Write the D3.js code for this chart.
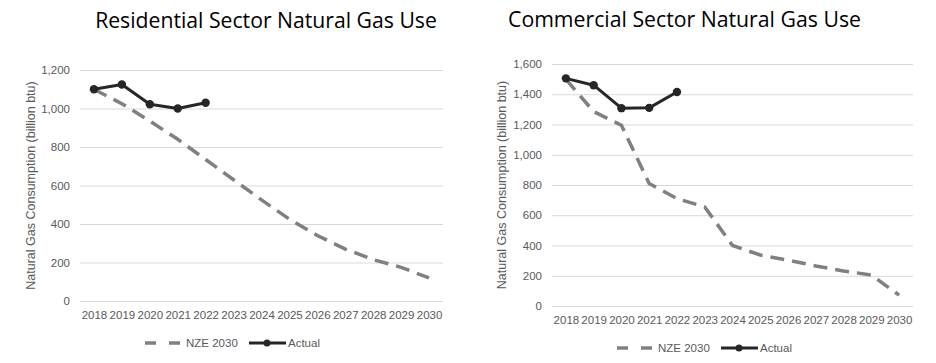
<!DOCTYPE html>
<html>
<head>
<meta charset="utf-8">
<script src="https://cdn.jsdelivr.net/npm/d3@7/dist/d3.min.js"></script>
<style>
  body { margin: 0; background: #fff; }
  svg { display: block; }
</style>
</head>
<body>
<svg id="chart" width="936" height="363"></svg>
<script>
const years = ["2018", "2019", "2020", "2021", "2022", "2023", "2024", "2025", "2026", "2027", "2028", "2029", "2030"];

const resNze = [1100, 1025, 935, 840, 735, 630, 525, 425, 340, 270, 215, 175, 120];
const resActual = [1100, 1125, 1022, 1000, 1030];
const resTicks = [0, 200, 400, 600, 800, 1000, 1200];

const comNze = [1500, 1285, 1195, 810, 710, 655, 400, 337, 303, 265, 232, 205, 72];
const comActual = [1505, 1460, 1308, 1310, 1415];
const comTicks = [0, 200, 400, 600, 800, 1000, 1200, 1400, 1600];

const seriesNames = ["NZE 2030", "Actual"];

const svg = d3.select("#chart");
const fontFamily = "'Liberation Sans', Arial, sans-serif";

function drawPanel(opts) {
    const { title, nze, actual, ticks, box, titleBox, yTitleX, legend } = opts;

    const x = d3.scalePoint()
        .domain(years)
        .range([box.left, box.right])
        .padding(0.5);

    const y = d3.scaleLinear()
        .domain([0, d3.max(ticks)])
        .range([box.bottom, box.top]);

    const g = svg.append("g");

    // gridlines
    g.append("g")
        .attr("transform", `translate(${box.left},0)`)
        .call(d3.axisLeft(y).tickValues(ticks).tickSize(-(box.right - box.left)).tickFormat(""))
        .call(s => s.select(".domain").remove())
        .call(s => s.selectAll("line").attr("stroke", "#d9d9d9").attr("stroke-width", 1));

    // y labels
    g.append("g")
        .attr("transform", `translate(${box.left - 10},0)`)
        .call(d3.axisLeft(y).tickValues(ticks).tickSize(0).tickPadding(0).tickFormat(d3.format(",")))
        .call(s => s.select(".domain").remove())
        .call(s => s.selectAll("text")
            .attr("fill", "#595959")
            .style("font-size", "11.5px")
            .style("font-family", fontFamily));

    // x labels
    g.append("g")
        .attr("transform", `translate(0,${box.bottom + 8})`)
        .call(d3.axisBottom(x).tickSize(0).tickPadding(0))
        .call(s => s.select(".domain").remove())
        .call(s => s.selectAll("text")
            .attr("fill", "#595959")
            .attr("dy", "0.9em")
            .style("font-size", "11.5px")
            .style("font-family", fontFamily));

    // y axis title
    g.append("text")
        .attr("transform", `translate(${yTitleX},${(box.top + box.bottom) / 2}) rotate(-90)`)
        .attr("text-anchor", "middle")
        .attr("dy", "0.35em")
        .attr("fill", "#595959")
        .style("font-size", "12.5px")
        .style("font-family", fontFamily)
        .text("Natural Gas Consumption (billion btu)");

    // chart title, sized to the width it takes in the original
    const t = g.append("text")
        .attr("x", (titleBox.left + titleBox.right) / 2)
        .attr("y", titleBox.baseline)
        .attr("text-anchor", "middle")
        .attr("fill", "#000")
        .style("font-family", "'Open Sans', sans-serif")
        .style("font-size", "22px")
        .text(title);
    const w = t.node().getComputedTextLength();
    t.style("font-size", (22 * (titleBox.right - titleBox.left) / w) + "px");

    const line = d3.line()
        .x((d, i) => x(years[i]))
        .y(d => y(d));

    g.append("path")
        .datum(nze)
        .attr("fill", "none")
        .attr("stroke", "#808080")
        .attr("stroke-width", 3.5)
        .attr("stroke-dasharray", "14,8")
        .attr("d", line);

    g.append("path")
        .datum(actual)
        .attr("fill", "none")
        .attr("stroke", "#262626")
        .attr("stroke-width", 3)
        .attr("stroke-linejoin", "round")
        .attr("d", line);

    g.selectAll(".pt")
        .data(actual)
        .join("circle")
        .attr("cx", (d, i) => x(years[i]))
        .attr("cy", d => y(d))
        .attr("r", 4.2)
        .attr("fill", "#262626");

    // legend
    const lg = g.append("g").attr("transform", `translate(0,${legend.y})`);
    lg.append("line")
        .attr("x1", legend.x).attr("x2", legend.x + 35)
        .attr("stroke", "#808080").attr("stroke-width", 3.5)
        .attr("stroke-dasharray", "11,13");
    lg.append("text")
        .attr("x", legend.x + 41).attr("dy", "0.35em")
        .attr("fill", "#595959")
        .style("font-size", "11.5px").style("font-family", fontFamily)
        .text(seriesNames[0]);
    const ax = legend.x + 104;
    lg.append("line")
        .attr("x1", ax).attr("x2", ax + 37)
        .attr("stroke", "#262626").attr("stroke-width", 3);
    lg.append("circle")
        .attr("cx", ax + 18).attr("r", 3.5).attr("fill", "#262626");
    lg.append("text")
        .attr("x", ax + 39).attr("dy", "0.35em")
        .attr("fill", "#595959")
        .style("font-size", "11.5px").style("font-family", fontFamily)
        .text(seriesNames[1]);
}

drawPanel({
    title: "Residential Sector Natural Gas Use",
    nze: resNze, actual: resActual, ticks: resTicks,
    box: { left: 80, right: 443, top: 70, bottom: 301 },
    titleBox: { left: 95, right: 437, baseline: 28 },
    yTitleX: 31,
    legend: { x: 145, y: 343 }
});

drawPanel({
    title: "Commercial Sector Natural Gas Use",
    nze: comNze, actual: comActual, ticks: comTicks,
    box: { left: 552, right: 913, top: 64, bottom: 306 },
    titleBox: { left: 508, right: 861, baseline: 27 },
    yTitleX: 502,
    legend: { x: 617, y: 348 }
});
</script>
</body>
</html>
